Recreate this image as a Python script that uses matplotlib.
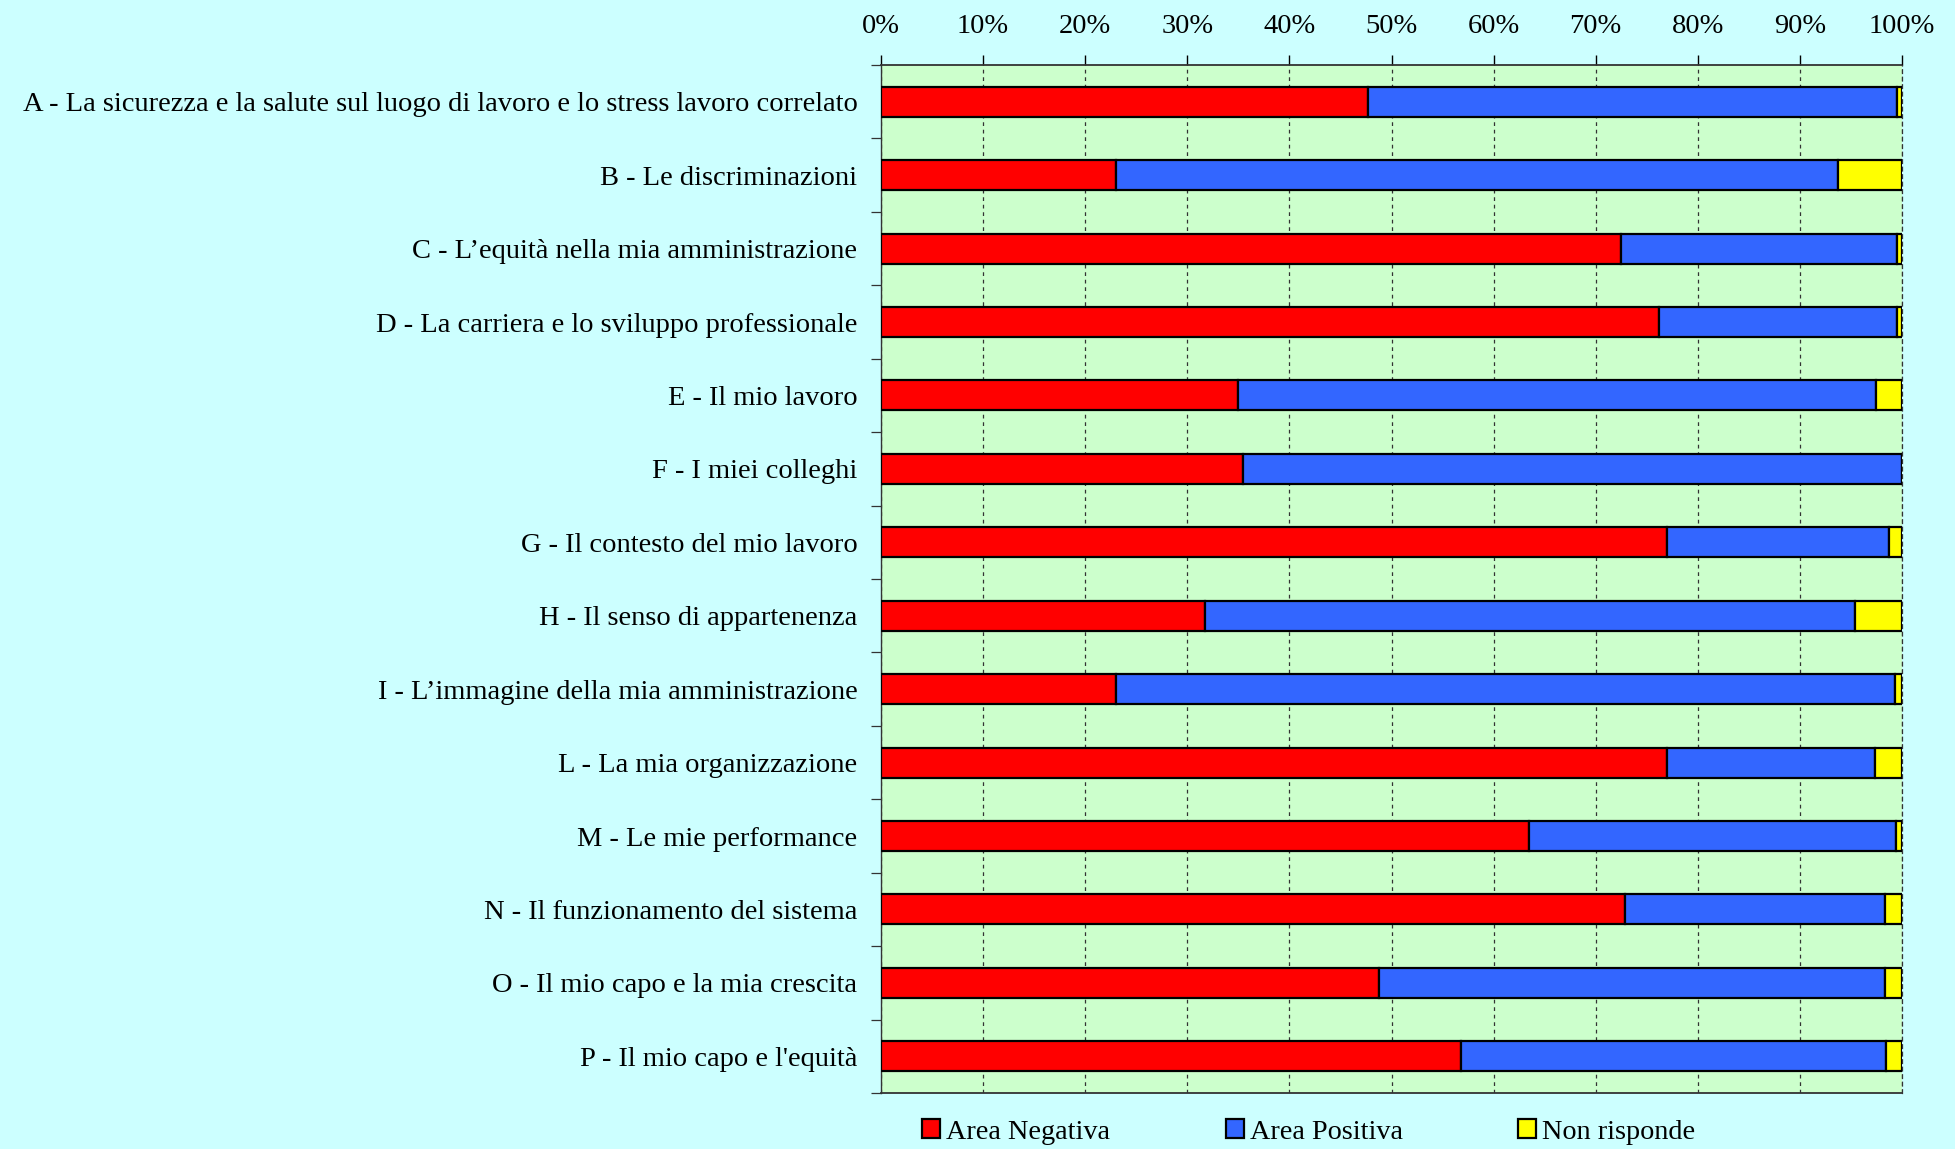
import matplotlib
matplotlib.use("Agg")
import matplotlib.pyplot as plt
import numpy as np
from matplotlib.patches import Patch
from matplotlib.ticker import FixedLocator, PercentFormatter

categories = [
    "A - La sicurezza e la salute sul luogo di lavoro e lo stress lavoro correlato",
    "B - Le discriminazioni",
    "C - L\u2019equit\u00e0 nella mia amministrazione",
    "D - La carriera e lo sviluppo professionale",
    "E - Il mio lavoro",
    "F - I miei colleghi",
    "G - Il contesto del mio lavoro",
    "H - Il senso di appartenenza",
    "I - L\u2019immagine della mia amministrazione",
    "L - La mia organizzazione",
    "M - Le mie performance",
    "N - Il funzionamento del sistema",
    "O - Il mio capo e la mia crescita",
    "P - Il mio capo e l'equit\u00e0",
]
area_negativa = [47.7, 23.0, 72.5, 76.2, 35.0, 35.5, 77.0, 31.7, 23.0, 77.0, 63.5, 72.9, 48.8, 56.8]
area_positiva = [51.8, 70.7, 27.0, 23.3, 62.5, 64.5, 21.7, 63.7, 76.3, 20.4, 35.9, 25.4, 49.5, 41.6]
non_risponde = [0.5, 6.3, 0.5, 0.5, 2.5, 0.0, 1.3, 4.6, 0.7, 2.6, 0.6, 1.7, 1.7, 1.6]
series_names = ["Area Negativa", "Area Positiva", "Non risponde"]
series_colors = ["#FF0000", "#3366FF", "#FFFF00"]
xticks = [0, 10, 20, 30, 40, 50, 60, 70, 80, 90, 100]

plt.rcParams['font.family'] = ['Liberation Serif', 'DejaVu Serif']

W, H = 1955, 1149
fig = plt.figure(figsize=(W / 100, H / 100), dpi=100, facecolor="#CCFFFF")
ax = fig.add_axes([881 / W, 1 - 1093 / H, (1902 - 881) / W, (1093 - 65) / H])
ax.set_facecolor("#CCFFCC")

y = np.arange(len(categories))
left = np.zeros(len(categories))
for vals, name, col in zip([area_negativa, area_positiva, non_risponde], series_names, series_colors):
    v = np.array(vals)
    ax.barh(y, v, left=left, height=0.41, color=col, edgecolor="black", linewidth=1.6, label=name, zorder=3)
    left = left + v

ax.set_xlim(0, 100)
ax.set_ylim(len(categories) - 0.5, -0.5)
ax.xaxis.set_major_locator(FixedLocator(xticks))
ax.xaxis.set_major_formatter(PercentFormatter(decimals=0))
ax.xaxis.tick_top()
ax.tick_params(axis="x", which="major", direction="out", length=7, width=1, pad=12, labelsize=20.5, colors="black")
ax.set_axisbelow(True)
ax.grid(axis="x", linestyle=(0, (3, 3)), color="#333333", linewidth=0.9)

ax.set_yticks(y)
ax.set_yticklabels(categories, fontsize=20.5)
ax.set_yticks(np.arange(len(categories) + 1) - 0.5, minor=True)
ax.tick_params(axis="y", which="major", length=0, pad=17)
ax.tick_params(axis="y", which="minor", length=7, width=0.9, direction="out", color="#333333")

for s in ["top", "bottom"]:
    ax.spines[s].set_linestyle((0, (1, 1)))
    ax.spines[s].set_color("#333333")
    ax.spines[s].set_linewidth(1.3)
ax.spines["right"].set_linestyle((0, (3, 3)))
ax.spines["right"].set_color("#333333")
ax.spines["right"].set_linewidth(0.9)
ax.spines["left"].set_color("#333333")
ax.spines["left"].set_linewidth(1.0)

handles = [Patch(facecolor=c, edgecolor="black", linewidth=1.6) for c in series_colors]
fig.legend(handles, series_names, loc="center left", bbox_to_anchor=(922 / W, 1 - 1132 / H),
           ncol=3, frameon=False, fontsize=20.3, handlelength=0.65, handleheight=0.65,
           handletextpad=0.2, columnspacing=4.1, borderaxespad=0, borderpad=0)

fig.savefig("out.png", dpi=100, facecolor=fig.get_facecolor())
